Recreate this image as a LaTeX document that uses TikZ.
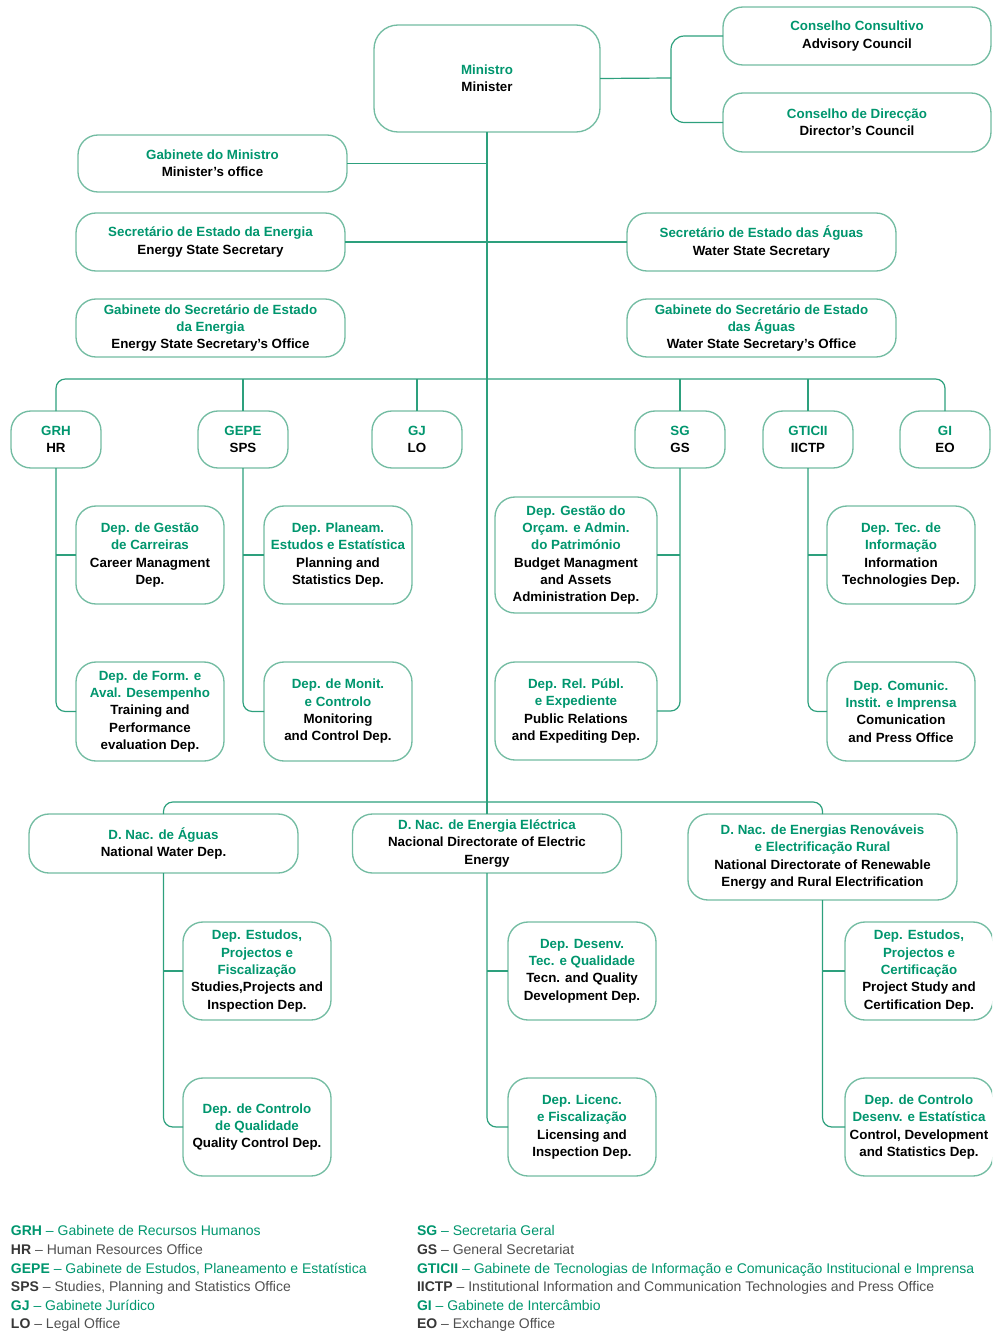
\documentclass[tikz,border=0pt]{standalone}
\usepackage{fontspec}
\setmainfont{Liberation Sans}
\definecolor{tg}{RGB}{0,150,110}
\definecolor{bx}{RGB}{115,188,162}
\definecolor{ln}{RGB}{45,160,125}
\definecolor{lgd}{RGB}{55,55,55}
\definecolor{lgt}{RGB}{80,80,80}
\newcommand\grn[1]{\textcolor{tg}{#1}}
\tikzset{
 box/.style={draw=bx, line width=1pt, rounded corners=15pt, fill=white, align=center, inner sep=0pt, outer sep=0pt, font=\fontsize{10}{13}\selectfont\bfseries},
 sbox/.style={box, minimum width=67.5pt, minimum height=42.75pt},
 wbox/.style={box, minimum width=201.75pt, minimum height=43.5pt},
 dbox/.style={box, minimum width=111pt, minimum height=73.5pt},
 conn/.style={draw=ln, line width=0.9pt},
 rc/.style={conn, rounded corners=7pt},
 leg/.style={anchor=base west, inner sep=0pt, outer sep=0pt, font=\fontsize{10.5}{12}\selectfont}
}
\begin{document}
\begin{tikzpicture}[x=0.75pt,y=-0.75pt]
\useasboundingbox (0,0) rectangle (992,1334);
\clip (0,0) rectangle (992,1334);

% top
\node[box, minimum width=169.5pt, minimum height=80.25pt, rounded corners=18pt] (min) at (487,78.5) {\grn{Ministro}\\Minister};
\node[wbox, minimum width=201pt] (cc) at (857,36) {\grn{Conselho Consultivo}\\Advisory Council};
\node[wbox, minimum width=201pt, minimum height=44.25pt] (cd) at (857,122.5) {\grn{Conselho de Direcção}\\Director's Council};
\node[wbox, minimum height=42.75pt] (gm) at (212.5,163.5) {\grn{Gabinete do Ministro}\\Minister's office};
\node[wbox] (se) at (210.5,242) {\grn{Secretário de Estado da Energia}\\Energy State Secretary};
\node[wbox] (sa) at (761.5,242) {\grn{Secretário de Estado das Águas}\\Water State Secretary};
\node[wbox] (gse) at (210.5,328) {\grn{Gabinete do Secretário de Estado}\\\grn{da Energia}\\Energy State Secretary's Office};
\node[wbox] (gsa) at (761.5,328) {\grn{Gabinete do Secretário de Estado}\\\grn{das Águas}\\Water State Secretary's Office};

% offices
\node[sbox] (grh) at (56,439.5) {\grn{GRH}\\HR};
\node[sbox] (gepe) at (243,439.5) {\grn{GEPE}\\SPS};
\node[sbox] (gj) at (417,439.5) {\grn{GJ}\\LO};
\node[sbox] (sg) at (680,439.5) {\grn{SG}\\GS};
\node[sbox] (gti) at (808,439.5) {\grn{GTICII}\\IICTP};
\node[sbox] (gi) at (945,439.5) {\grn{GI}\\EO};

% departments
\node[dbox] (grh1) at (150,555) {\grn{Dep. de Gestão}\\\grn{de Carreiras}\\Career Managment\\Dep.};
\node[dbox, minimum height=74.25pt] (grh2) at (150,711.5) {\grn{Dep. de Form. e}\\\grn{Aval. Desempenho}\\Training and\\Performance\\evaluation Dep.};
\node[dbox] (gepe1) at (338,555) {\grn{Dep. Planeam.}\\\grn{Estudos e Estatística}\\Planning and\\Statistics Dep.};
\node[dbox, minimum height=74.25pt] (gepe2) at (338,711.5) {\grn{Dep. de Monit.}\\\grn{e Controlo}\\Monitoring\\and Control Dep.};
\node[dbox, minimum width=121.5pt, minimum height=87pt] (sg1) at (576,555) {\grn{Dep. Gestão do}\\\grn{Orçam. e Admin.}\\\grn{do Património}\\Budget Managment\\and Assets\\Administration Dep.};
\node[dbox, minimum width=121.5pt] (sg2) at (576,711) {\grn{Dep. Rel. Públ.}\\\grn{e Expediente}\\Public Relations\\and Expediting Dep.};
\node[dbox] (gti1) at (901,555) {\grn{Dep. Tec. de}\\\grn{Informação}\\Information\\Technologies Dep.};
\node[dbox, minimum height=74.25pt] (gti2) at (901,711.5) {\grn{Dep. Comunic.}\\\grn{Instit. e Imprensa}\\Comunication\\and Press Office};

% directorates
\node[wbox, minimum height=44.25pt] (ag) at (163.5,843.5) {\grn{D. Nac. de Águas}\\National Water Dep.};
\node[wbox, minimum height=44.25pt] (en) at (487,843.5) {\grn{D. Nac. de Energia Eléctrica}\\Nacional Directorate of Electric\\Energy};
\node[wbox, minimum height=64.5pt] (er) at (822.5,857) {\grn{D. Nac. de Energias Renováveis}\\\grn{e Electrificação Rural}\\National Directorate of Renewable\\Energy and Rural Electrification};

\node[dbox] (ag1) at (257,971) {\grn{Dep. Estudos,}\\\grn{Projectos e}\\\grn{Fiscalização}\\Studies,Projects and\\Inspection Dep.};
\node[dbox] (ag2) at (257,1127) {\grn{Dep. de Controlo}\\\grn{de Qualidade}\\Quality Control Dep.};
\node[dbox] (en1) at (582,971) {\grn{Dep. Desenv.}\\\grn{Tec. e Qualidade}\\Tecn. and Quality\\Development Dep.};
\node[dbox] (en2) at (582,1127) {\grn{Dep. Licenc.}\\\grn{e Fiscalização}\\Licensing and\\Inspection Dep.};
\node[dbox, minimum width=111pt] (er1) at (919,971) {\grn{Dep. Estudos,}\\\grn{Projectos e}\\\grn{Certificação}\\Project Study and\\Certification Dep.};
\node[dbox, minimum width=111pt] (er2) at (919,1127) {\grn{Dep. de Controlo}\\\grn{Desenv. e Estatística}\\Control, Development\\and Statistics Dep.};

% connectors
\coordinate (jc) at (671,78);
\coordinate (r) at (487,379);
\coordinate (b) at (487,802);
\draw[conn] (min.east) -- (jc);
\draw[conn, rounded corners=10pt] (cc.west) -| (jc) |- (cd.west);
\draw[conn] (min.south) -- (min.south |- en.north);
\draw[conn] (gm.east) -- (gm.east -| min.south);
\draw[conn] (se.east) -- (sa.west);
\draw[rc] (grh.north) |- (r) -| (gi.north);
\draw[conn] (gepe.north) -- (gepe.north |- r);
\draw[conn] (gj.north) -- (gj.north |- r);
\draw[conn] (sg.north) -- (sg.north |- r);
\draw[conn] (gti.north) -- (gti.north |- r);
\draw[rc] (grh.south) |- (grh2.west);
\draw[conn] (grh1.west) -- (grh1.west -| grh.south);
\draw[rc] (gepe.south) |- (gepe2.west);
\draw[conn] (gepe1.west) -- (gepe1.west -| gepe.south);
\draw[rc] (sg.south) |- (sg2.east);
\draw[conn] (sg1.east) -- (sg1.east -| sg.south);
\draw[rc] (gti.south) |- (gti2.west);
\draw[conn] (gti1.west) -- (gti1.west -| gti.south);
\draw[rc] (ag.north) |- (b) -| (er.north);
\draw[rc] (ag.south) |- (ag2.west);
\draw[conn] (ag1.west) -- (ag1.west -| ag.south);
\draw[rc] (en.south) |- (en2.west);
\draw[conn] (en1.west) -- (en1.west -| en.south);
\draw[rc] (er.south) |- (er2.west);
\draw[conn] (er1.west) -- (er1.west -| er.south);

% legend
\node[leg] (l1) at (11,1235) {\textcolor{tg}{\textbf{GRH} – Gabinete de Recursos Humanos}};
\node[leg] (l2) at (11,1254) {\textcolor{lgd}{\textbf{HR}} \textcolor{lgt}{– Human Resources Office}};
\node[leg] (l3) at (11,1273) {\textcolor{tg}{\textbf{GEPE} – Gabinete de Estudos, Planeamento e Estatística}};
\node[leg] (l4) at (11,1291) {\textcolor{lgd}{\textbf{SPS}} \textcolor{lgt}{– Studies, Planning and Statistics Office}};
\node[leg] (l5) at (11,1310) {\textcolor{tg}{\textbf{GJ} – Gabinete Jurídico}};
\node[leg] (l6) at (11,1328) {\textcolor{lgd}{\textbf{LO}} \textcolor{lgt}{– Legal Office}};
\node[leg] (r1) at (417,1235) {\textcolor{tg}{\textbf{SG} – Secretaria Geral}};
\node[leg] (r2) at (417,1254) {\textcolor{lgd}{\textbf{GS}} \textcolor{lgt}{– General Secretariat}};
\node[leg] (r3) at (417,1273) {\textcolor{tg}{\textbf{GTICII} – Gabinete de Tecnologias de Informação e Comunicação Institucional e Imprensa}};
\node[leg] (r4) at (417,1291) {\textcolor{lgd}{\textbf{IICTP}} \textcolor{lgt}{– Institutional Information and Communication Technologies and Press Office}};
\node[leg] (r5) at (417,1310) {\textcolor{tg}{\textbf{GI} – Gabinete de Intercâmbio}};
\node[leg] (r6) at (417,1328) {\textcolor{lgd}{\textbf{EO}} \textcolor{lgt}{– Exchange Office}};
\end{tikzpicture}
\end{document}
